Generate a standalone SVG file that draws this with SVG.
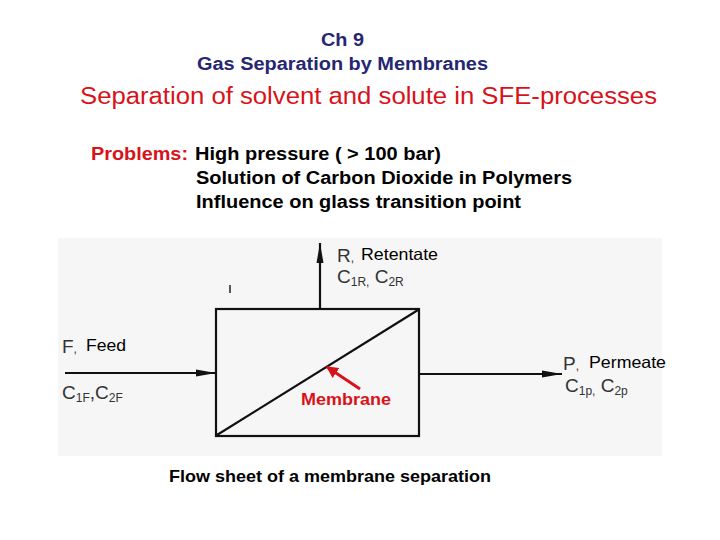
<svg xmlns="http://www.w3.org/2000/svg" width="720" height="540" viewBox="0 0 720 540">
<style>
.t{font-family:"Liberation Sans",Arial,sans-serif}
.hd{fill:#262673;font-weight:bold;font-size:18px}
.red{fill:#d8121a}
.b{font-weight:bold;fill:#000}
.scan{fill:#333;font-size:19px}
.sub{font-size:12px}
.lbl{font-size:16.5px;fill:#000}
.ln{stroke:#111;stroke-width:2.2;fill:none}
</style>
<defs>
<marker id="ah" viewBox="0 0 20 8" refX="20" refY="4" markerWidth="20" markerHeight="8" markerUnits="userSpaceOnUse" orient="auto">
<path d="M0,0.5 L20,4 L0,7.5 z" fill="#111"/>
</marker>
<marker id="rah" viewBox="0 0 10 10" refX="9" refY="5" markerWidth="12" markerHeight="12" markerUnits="userSpaceOnUse" orient="auto">
<path d="M0,0 L10,5 L0,10 z" fill="#d8121a"/>
</marker>
</defs>
<rect width="720" height="540" fill="#fff"/>
<rect x="58" y="238" width="604" height="218" fill="#f6f6f6"/>
<g id="title">
<text class="t hd" x="321" y="46" textLength="43" lengthAdjust="spacingAndGlyphs">Ch 9</text>
<text class="t hd" x="197" y="70" textLength="291" lengthAdjust="spacingAndGlyphs">Gas Separation by Membranes</text>
<text class="t red" x="80" y="104" font-size="23.5" textLength="577" lengthAdjust="spacingAndGlyphs">Separation of solvent and solute in SFE-processes</text>
</g>
<g id="problems" class="t" font-size="18">
<text class="red" font-weight="bold" x="91" y="160" textLength="97" lengthAdjust="spacingAndGlyphs">Problems:</text>
<text class="b" x="195" y="160" textLength="246" lengthAdjust="spacingAndGlyphs">High pressure ( &gt; 100 bar)</text>
<text class="b" x="196" y="184" textLength="376" lengthAdjust="spacingAndGlyphs">Solution of Carbon Dioxide in Polymers</text>
<text class="b" x="196" y="208" textLength="325" lengthAdjust="spacingAndGlyphs">Influence on glass transition point</text>
</g>
<g id="connectors">
<line class="ln" x1="65" y1="373" x2="216" y2="373" marker-end="url(#ah)"/>
<line class="ln" x1="320" y1="309" x2="320" y2="243" marker-end="url(#ah)"/>
<line class="ln" x1="419" y1="374" x2="562" y2="374" marker-end="url(#ah)"/>
<line x1="230" y1="285" x2="230" y2="293" stroke="#222" stroke-width="1.5"/>
</g>
<g id="membrane-unit">
<rect class="ln" x="216" y="309" width="203" height="127"/>
<line class="ln" x1="217" y1="435" x2="418" y2="310"/>
<line x1="360" y1="389" x2="327" y2="367" stroke="#d8121a" stroke-width="3" marker-end="url(#rah)"/>
<text class="t red" font-weight="bold" font-size="16.5" x="301" y="405" textLength="90" lengthAdjust="spacingAndGlyphs">Membrane</text>
</g>
<g id="feed">
<text class="t scan" x="62" y="353">F<tspan font-size="12">,</tspan></text>
<text class="t lbl" x="86" y="351" textLength="40" lengthAdjust="spacingAndGlyphs">Feed</text>
<text class="t scan" x="62" y="399">C<tspan class="sub" dy="3">1F</tspan><tspan dy="-3">,C</tspan><tspan class="sub" dy="3">2F</tspan></text>
</g>
<g id="retentate">
<text class="t scan" x="337" y="262">R<tspan font-size="12">,</tspan></text>
<text class="t lbl" x="361" y="260" textLength="77" lengthAdjust="spacingAndGlyphs">Retentate</text>
<text class="t scan" x="337" y="283">C<tspan class="sub" dy="3">1R,</tspan><tspan dy="-3"> C</tspan><tspan class="sub" dy="3">2R</tspan></text>
</g>
<g id="permeate">
<text class="t scan" x="563" y="370">P<tspan font-size="12">,</tspan></text>
<text class="t lbl" x="589" y="368" textLength="77" lengthAdjust="spacingAndGlyphs">Permeate</text>
<text class="t scan" x="565" y="392">C<tspan class="sub" dy="3">1p,</tspan><tspan dy="-3"> C</tspan><tspan class="sub" dy="3">2p</tspan></text>
</g>
<g id="caption">
<text class="t b" font-size="16.5" x="169" y="482" textLength="322" lengthAdjust="spacingAndGlyphs">Flow sheet of a membrane separation</text>
</g>
</svg>
